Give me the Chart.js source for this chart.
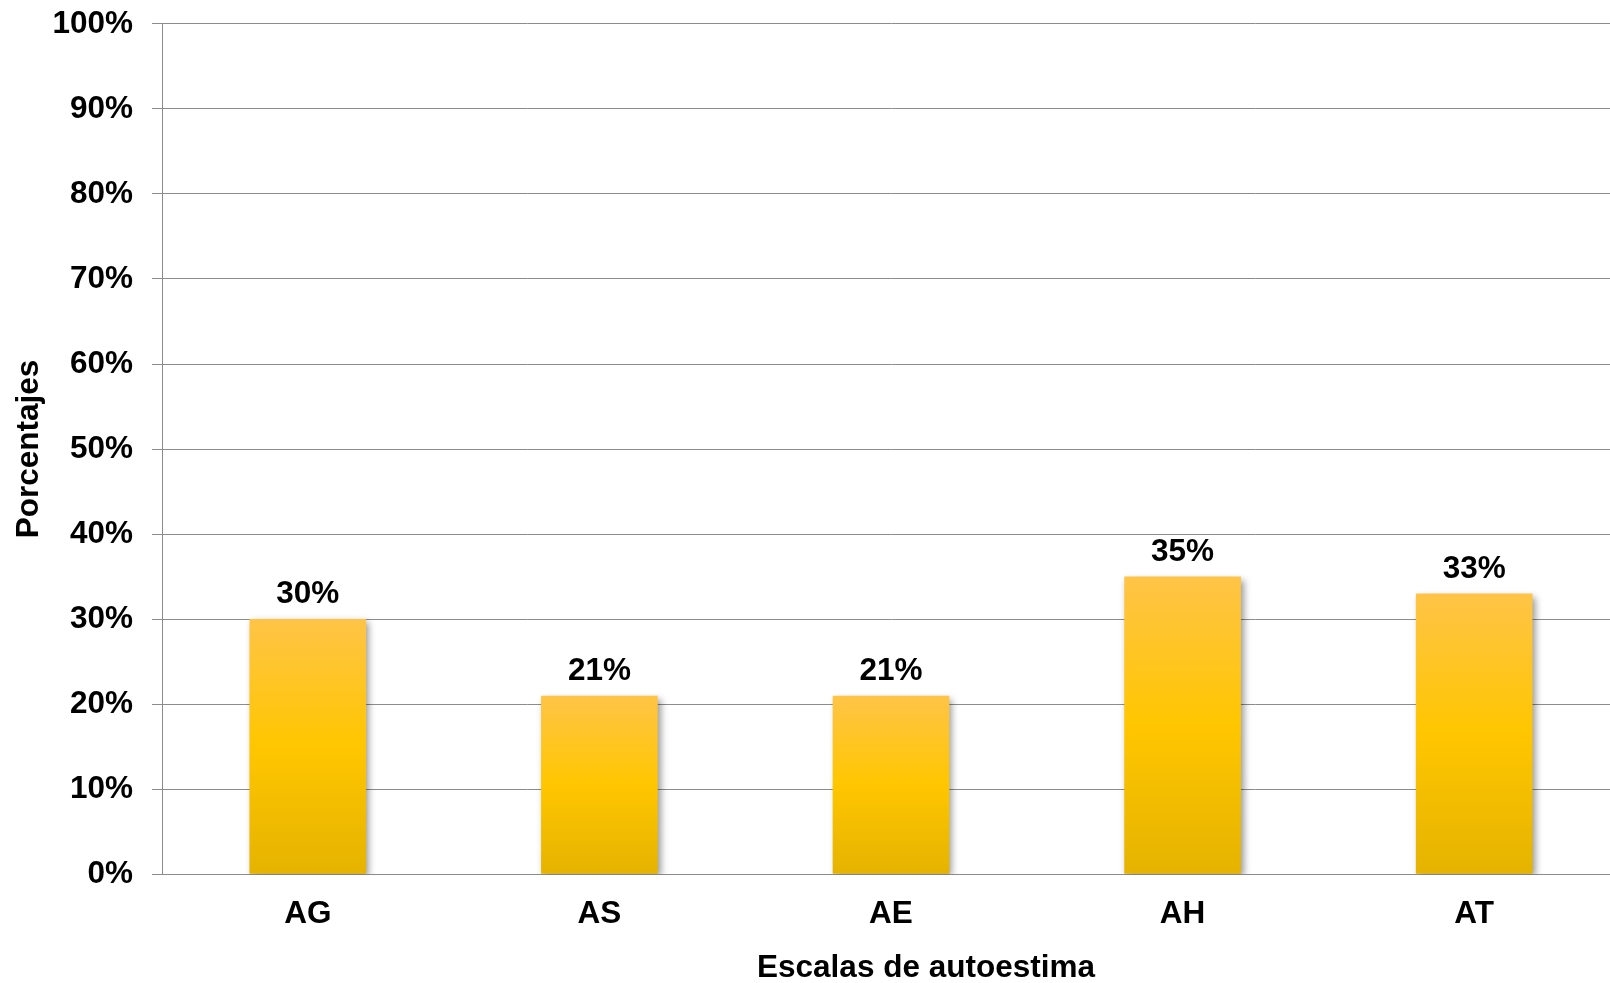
<!DOCTYPE html>
<html>
<head>
<meta charset="utf-8">
<script src="https://cdn.jsdelivr.net/npm/chart.js@4.4.1/dist/chart.umd.min.js"></script>
<style>
  html, body { margin: 0; padding: 0; background: #fff; overflow: hidden; }
  #wrap { position: relative; width: 1610px; height: 983px; overflow: hidden; }
  /* canvas runs a little past the top and right edges of the frame */
  #chart { position: absolute; left: 0; top: -14px; }
</style>
</head>
<body>
<div id="wrap"><canvas id="chart" width="1620" height="997"></canvas></div>
<script>
const categories = ["AG", "AS", "AE", "AH", "AT"];
const values = [30, 21, 21, 35, 33];
const yTicks = [0, 10, 20, 30, 40, 50, 60, 70, 80, 90, 100];

const FONT = "'Liberation Sans', Arial, sans-serif";
const FONT_SIZE = 31.5;
const GRID = "#8c8c8c";

// per-bar vertical gradient, lighter at the top
function barFill(ctx) {
  const chart = ctx.chart;
  if (!chart.chartArea || ctx.type !== "data") return "#FFC600";
  const y = chart.scales.y;
  const top = y.getPixelForValue(values[ctx.dataIndex]);
  const bottom = y.getPixelForValue(0);
  const g = chart.ctx.createLinearGradient(0, top, 0, bottom);
  g.addColorStop(0, "#FFC447");
  g.addColorStop(0.5, "#FFC600");
  g.addColorStop(1, "#E5B300");
  return g;
}

const barShadow = {
  id: "barShadow",
  beforeDatasetsDraw(chart) {
    const c = chart.ctx;
    c.save();
    c.shadowColor = "rgba(0,0,0,0.4)";
    c.shadowBlur = 7;
    c.shadowOffsetX = 3;
    c.shadowOffsetY = 3;
  },
  afterDatasetsDraw(chart) {
    chart.ctx.restore();
  }
};

const valueLabels = {
  id: "valueLabels",
  afterDraw(chart) {
    const c = chart.ctx;
    const meta = chart.getDatasetMeta(0);
    c.save();
    c.font = "bold " + FONT_SIZE + "px " + FONT;
    c.fillStyle = "#000";
    c.textAlign = "center";
    c.textBaseline = "alphabetic";
    meta.data.forEach((bar, i) => {
      c.fillText(values[i] + "%", bar.x, bar.y - 16);
    });
    // x axis title
    c.fillText("Escalas de autoestima", 926, 991);
    c.restore();
  }
};

new Chart(document.getElementById("chart"), {
  type: "bar",
  data: {
    labels: categories,
    datasets: [{
      data: values,
      backgroundColor: barFill,
      borderWidth: 0,
      categoryPercentage: 1,
      barPercentage: 0.4
    }]
  },
  options: {
    responsive: false,
    animation: false,
    layout: { padding: { top: 0, right: 0, bottom: 29, left: 0 } },
    plugins: {
      legend: { display: false },
      tooltip: { enabled: false }
    },
    scales: {
      x: {
        grid: { display: false, drawTicks: false },
        border: { display: true, color: GRID, width: 1 },
        ticks: {
          padding: 21,
          color: "#000",
          font: { family: FONT, size: FONT_SIZE, weight: "bold" }
        }
      },
      y: {
        min: 0,
        max: 100,
        afterBuildTicks(scale) {
          scale.ticks = yTicks.map(v => ({ value: v }));
        },
        afterFit(scale) {
          scale.width = 162;
        },
        grid: {
          color: GRID,
          lineWidth: 1,
          drawTicks: true,
          tickLength: 10,
          tickColor: GRID
        },
        border: { display: true, color: GRID, width: 1 },
        ticks: {
          padding: 19,
          color: "#000",
          font: { family: FONT, size: FONT_SIZE, weight: "bold" },
          callback: v => v + "%"
        },
        title: {
          display: true,
          text: "Porcentajes",
          color: "#000",
          padding: { top: 10, bottom: 0 },
          font: { family: FONT, size: FONT_SIZE, weight: "bold" }
        }
      }
    }
  },
  plugins: [barShadow, valueLabels]
});
</script>
</body>
</html>
